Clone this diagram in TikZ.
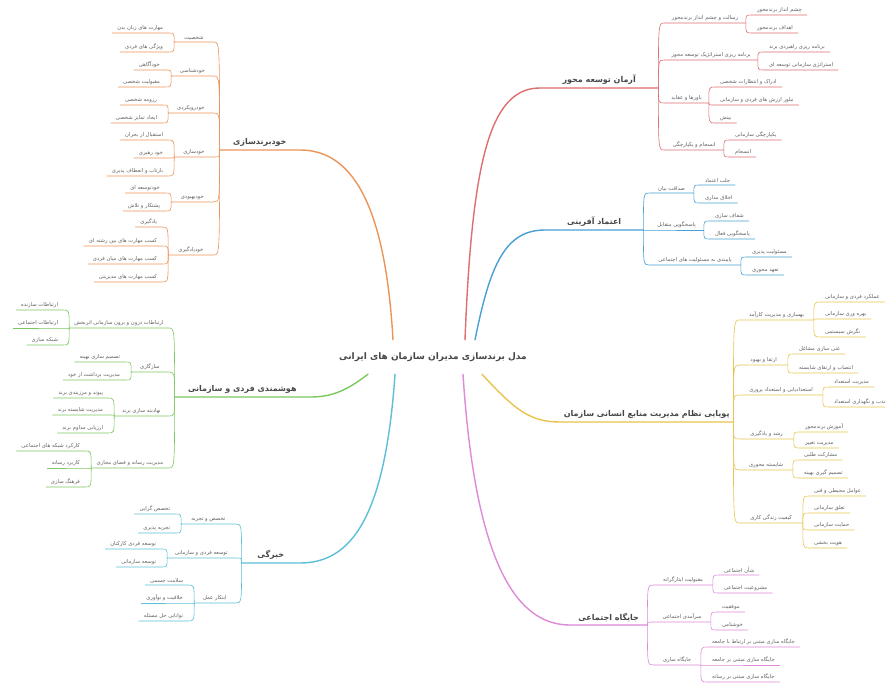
\documentclass[tikz,border=0pt]{standalone}
\usepackage{fontspec}
\usetikzlibrary{calc}
\newfontfamily\farsi[Script=Arabic]{DejaVu Sans}
\TeXXeTstate=1
\newcommand\fa[1]{\beginR #1\endR}
\definecolor{brRed}{RGB}{222,110,112}
\definecolor{brBlue}{RGB}{72,160,212}
\definecolor{brYellow}{RGB}{232,196,78}
\definecolor{brPink}{RGB}{222,138,216}
\definecolor{brOrange}{RGB}{236,148,88}
\definecolor{brGreen}{RGB}{124,200,96}
\definecolor{brCyan}{RGB}{92,190,216}
\newcommand\linkR[2]{\draw[link] (#1.south east) .. controls (#1.south east |- #2.south west) .. (#2.south west) -- (#2.south east);}
\newcommand\linkL[2]{\draw[link] (#1.south west) .. controls (#1.south west |- #2.south east) .. (#2.south east) -- (#2.south west);}
\newcommand\subsR[2]{\foreach \n/\y/\w/\txt in {#2}
  {\node[sub,anchor=south west,minimum width=\w pt] (\n) at ($(#1.south east |- 0,\y)+(6,0)$) {\fa{\txt}}; \linkR{#1}{\n}}}
\newcommand\subsL[2]{\foreach \n/\y/\w/\txt in {#2}
  {\node[sub,anchor=south east,minimum width=\w pt] (\n) at ($(#1.south west |- 0,\y)+(-6,0)$) {\fa{\txt}}; \linkL{#1}{\n}}}
\newcommand\leavesR[2]{\foreach \y/\txt [count=\i] in {#2}
  {\node[leaf,anchor=south west] (#1\i) at ($(#1.south east |- 0,\y)+(6,0)$) {\fa{\txt}}; \linkR{#1}{#1\i}}}
\newcommand\leavesL[2]{\foreach \y/\txt [count=\i] in {#2}
  {\node[leaf,anchor=south east] (#1\i) at ($(#1.south west |- 0,\y)+(-6,0)$) {\fa{\txt}}; \linkL{#1}{#1\i}}}

\begin{document}
\begin{tikzpicture}[x=1pt,y=-1pt,
    root/.style={font=\farsi\bfseries\fontsize{9}{11}\selectfont,text=black!72,minimum height=34pt,inner sep=0pt},
    main/.style={font=\farsi\bfseries\fontsize{8}{10}\selectfont,text=black!72,inner xsep=0pt,inner ysep=3pt},
    sub/.style={font=\farsi\fontsize{5.3}{6}\selectfont,text=black!62,inner xsep=1pt,inner ysep=1.8pt},
    leaf/.style={sub,inner xsep=5pt},
    trunk/.style={line width=1.4pt,line cap=round},
    link/.style={line width=0.6pt}]
    \fill[white] (0,0) rectangle (885,682);
    \useasboundingbox (0,0) rectangle (885,682);
    \node[root] (root) at (433,357) {\fa{مدل برندسازی مدیران سازمان های ایرانی}};

    \begin{scope}[color=brRed]
      \node[main,anchor=south west,minimum width=118pt] (R) at (540,88) {\fa{آرمان توسعه محور}};
      \draw[trunk] ([xshift=32pt]root.north) .. controls (472,160) and (490,88) .. (R.south west) -- (R.south east);
      \subsR{R}{r1/23/81/رسالت و چشم انداز برندمحور, r2/60/93/برنامه ریزی استراتژیک توسعه محور,
        r3/103/44/باورها و عقاید, r4/150/59/انسجام و یکپارچگی}
      \leavesR{r1}{15/چشم انداز برندمحور, 33/اهداف برندمحور}
      \leavesR{r2}{52/برنامه ریزی راهبردی برند, 70/استراتژی سازمانی توسعه ای}
      \leavesR{r3}{87/ادراک و انتظارات شخصی, 105/تبلور ارزش های فردی و سازمانی, 123/بینش}
      \leavesR{r4}{140/یکپارچگی سازمانی, 157/انسجام}
    \end{scope}

    \begin{scope}[color=brBlue]
      \node[main,anchor=south west,minimum width=98pt] (B) at (545,230) {\fa{اعتماد آفرینی}};
      \draw[trunk] ([xshift=42pt]root.north) .. controls (490,265) and (505,230) .. (B.south west) -- (B.south east);
      \subsR{B}{b1/193/44/صداقت بیان, b2/230/54/پاسخگویی متقابل, b3/265/91/پایبندی به مسئولیت های اجتماعی}
      \leavesR{b1}{185/جلب اعتماد, 203/اخلاق مداری}
      \leavesR{b2}{221/شفاف سازی, 239/پاسخگویی فعال}
      \leavesR{b3}{257/مسئولیت پذیری, 275/تعهد محوری}
    \end{scope}

    \begin{scope}[color=brYellow]
      \node[main,anchor=south west,minimum width=173pt] (Y) at (560,422) {\fa{پویایی نظام مدیریت منابع انسانی سازمان}};
      \draw[trunk] ([xshift=49pt]root.south) .. controls (515,410) and (530,422) .. (Y.south west) -- (Y.south east);
      \subsR{Y}{y1/320/74/بهسازی و مدیریت کارآمد, y2/365/48/ارتقا و بهبود, y3/395/83/استعدادیابی و استعداد پروری,
        y4/439/54/رشد و یادگیری, y5/470/53/شایسته محوری, y6/523/63/کیفیت زندگی کاری}
      \leavesR{y1}{302/عملکرد فردی و سازمانی, 319/بهره وری سازمانی, 337/نگرش سیستمی}
      \leavesR{y2}{354/غنی سازی مشاغل, 373/انتصاب و ارتقای شایسته}
      \leavesR{y3}{387/مدیریت استعداد, 407/جذب و نگهداری استعداد}
      \leavesR{y4}{432/آموزش برندمحور, 448/مدیریت تغییر}
      \leavesR{y5}{460/مشارکت طلبی, 478/تصمیم گیری بهینه}
      \leavesR{y6}{496/عوامل محیطی و فنی, 513/تعلق سازمانی, 530/حمایت سازمانی, 548/هویت بخشی}
    \end{scope}

    \begin{scope}[color=brPink]
      \node[main,anchor=south west,minimum width=77pt] (P) at (570,625) {\fa{جایگاه اجتماعی}};
      \draw[trunk] ([xshift=30pt]root.south) .. controls (475,560) and (515,625) .. (P.south west) -- (P.south east);
      \subsR{P}{p1/585/59/مقبولیت ایثارگرانه, p2/622/57/سرآمدی اجتماعی, p3/665/47/جایگاه سازی}
      \leavesR{p1}{575/شأن اجتماعی, 593/مشروعیت اجتماعی}
      \leavesR{p2}{612/موفقیت, 630/خوشنامی}
      \leavesR{p3}{647/جایگاه سازی مبتنی بر ارتباط با جامعه, 665/جایگاه سازی مبتنی بر جامعه, 682/جایگاه سازی مبتنی بر رسانه}
    \end{scope}

    \begin{scope}[color=brOrange]
      \node[main,anchor=south east,minimum width=80pt] (O) at (300,150) {\fa{خودبرندسازی}};
      \draw[trunk] ([xshift=-40pt]root.north) .. controls (385,200) and (350,150) .. (O.south east) -- (O.south west);
      \subsL{O}{o1/42/39/شخصیت, o2/76/42/خودشناسی, o3/113/45/خودرویکردی, o4/157/39/خودسازی,
        o5/202/42/خودبهبودی, o6/255/45/خودیادگیری}
      \leavesL{o1}{33/مهارت های زبان بدن, 52/ویژگی های فردی}
      \leavesL{o2}{70/خودآگاهی, 87/مقبولیت شخصی}
      \leavesL{o3}{105/رزومه شخصی, 123/ایجاد تمایز شخصی}
      \leavesL{o4}{140/استقبال از بحران, 158/خود رهبری, 176/بازتاب و انعطاف پذیری}
      \leavesL{o5}{193/خودتوسعه ای, 211/پشتکار و تلاش}
      \leavesL{o6}{227/یادگیری, 246/کسب مهارت های بین رشته ای, 264/کسب مهارت های میان فردی, 282/کسب مهارت های مدیریتی}
    \end{scope}

    \begin{scope}[color=brGreen]
      \node[main,anchor=south east,minimum width=135pt] (G) at (310,397) {\fa{هوشمندی فردی و سازمانی}};
      \draw[trunk] ([xshift=-65pt]root.south) .. controls (345,392) and (330,397) .. (G.south east) -- (G.south west);
      \subsL{G}{g1/328/99/ارتباطات درون و برون سازمانی اثربخش, g2/372/37/سازگاری,
        g3/416/54/نهادینه سازی برند, g4/468/77/مدیریت رسانه و فضای مجازی}
      \leavesL{g1}{310/ارتباطات سازنده, 328/ارتباطات اجتماعی, 345/شبکه سازی}
      \leavesL{g2}{362/تصمیم سازی بهینه, 380/مدیریت برداشت از خود}
      \leavesL{g3}{398/پیوند و مرزبندی برند, 415/مدیریت شایسته برند, 433/ارزیابی مداوم برند}
      \leavesL{g4}{451/کارکرد شبکه های اجتماعی, 468/کاربرد رسانه, 487/فرهنگ سازی}
    \end{scope}

    \begin{scope}[color=brCyan]
      \node[main,anchor=south east,minimum width=58pt] (C) at (300,563) {\fa{خبرگی}};
      \draw[trunk] ([xshift=-38pt]root.south) .. controls (385,520) and (350,563) .. (C.south east) -- (C.south west);
      \subsL{C}{c1/524/54/تخصص و تجربه, c2/558/68/توسعه فردی و سازمانی, c3/603/41/ابتکار عمل}
      \leavesL{c1}{514/تخصص گرایی, 533/تجربه پذیری}
      \leavesL{c2}{549/توسعه فردی کارکنان, 567/توسعه سازمانی}
      \leavesL{c3}{585/سلامت جسمی, 603/خلاقیت و نوآوری, 621/توانایی حل مسئله}
    \end{scope}
\end{tikzpicture}
\end{document}
